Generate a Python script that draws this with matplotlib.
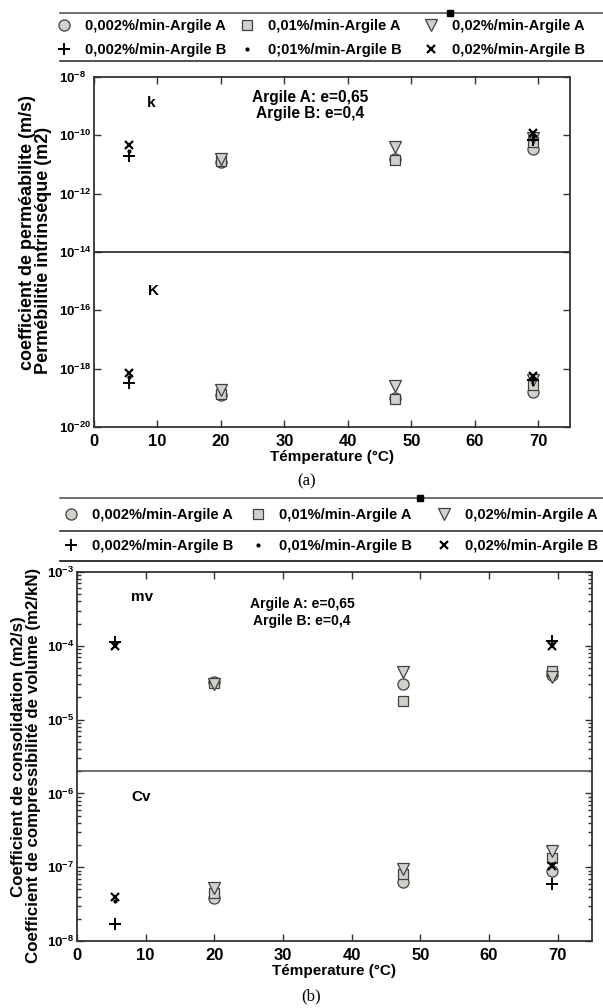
import matplotlib
matplotlib.use("Agg")
import matplotlib.pyplot as plt
from matplotlib.lines import Line2D
from matplotlib.ticker import LogLocator, FixedLocator, FuncFormatter, NullFormatter
import numpy as np

plt.rcParams['font.family'] = ['Liberation Sans', 'DejaVu Sans']
plt.rcParams['font.weight'] = 'bold'
plt.rcParams['mathtext.fontset'] = 'custom'
plt.rcParams['mathtext.rm'] = 'Liberation Sans:bold'
plt.rcParams['mathtext.bf'] = 'Liberation Sans:bold'
TICKSIZE = 9.5

# ---------------- data ----------------
temp_A = [20, 47.5, 69.2]
temp_B = [5.5, 69.2]

# (a) hydraulic conductivity k (m/s)
k_A_002 = [1.2e-11, 1.5e-11, 3.5e-11]
k_A_01 = [1.3e-11, 1.4e-11, 6.0e-11]
k_A_02 = [1.5e-11, 4.0e-11, 8.0e-11]
k_B_002 = [2.0e-11, 7.0e-11]
k_B_01 = [3.0e-11, 9.0e-11]
k_B_02 = [4.5e-11, 1.2e-10]

# (a) intrinsic permeability K (m2)
K_A_002 = [1.3e-19, 1.0e-19, 1.6e-19]
K_A_01 = [1.4e-19, 9.0e-20, 2.8e-19]
K_A_02 = [1.8e-19, 2.6e-19, 4.0e-19]
K_B_002 = [3.3e-19, 4.0e-19]
K_B_01 = [5.0e-19, 4.5e-19]
K_B_02 = [7.0e-19, 5.5e-19]

# (b) mv (m2/kN)
mv_A_002 = [3.2e-5, 3.0e-5, 4.0e-5]
mv_A_01 = [3.1e-5, 1.8e-5, 4.5e-5]
mv_A_02 = [3.0e-5, 4.4e-5, 3.8e-5]
mv_B_002 = [1.12e-4, 1.15e-4]
mv_B_01 = [1.05e-4, 1.05e-4]
mv_B_02 = [1.0e-4, 1.0e-4]

# (b) Cv (m2/s)
cv_A_002 = [3.8e-8, 6.3e-8, 9.0e-8]
cv_A_01 = [4.5e-8, 8.0e-8, 1.35e-7]
cv_A_02 = [5.3e-8, 9.5e-8, 1.65e-7]
cv_B_002 = [1.7e-8, 6.0e-8]
cv_B_01 = [3.5e-8, 1.1e-7]
cv_B_02 = [3.9e-8, 1.05e-7]

labels_a = ['0,002%/min-Argile A', '0,01%/min-Argile A', '0,02%/min-Argile A',
            '0,002%/min-Argile B', '0;01%/min-Argile B', '0,02%/min-Argile B']
labels_b = ['0,002%/min-Argile A', '0,01%/min-Argile A', '0,02%/min-Argile A',
            '0,002%/min-Argile B', '0,01%/min-Argile B', '0,02%/min-Argile B']

# ---------------- styles ----------------
GREY = '#d3d0cb'
EDGE = '#404040'
sty = [
    dict(marker='o', ms=8, mfc=GREY, mec=EDGE, mew=0.9, ls='none'),
    dict(marker='s', ms=7.5, mfc=GREY, mec=EDGE, mew=0.9, ls='none'),
    dict(marker='v', ms=9, mfc=GREY, mec=EDGE, mew=0.9, ls='none'),
    dict(marker='+', ms=9, mec='black', mew=1.4, ls='none'),
    dict(marker='.', ms=4, mfc='black', mec='black', ls='none'),
    dict(marker='x', ms=6, mec='black', mew=1.6, ls='none'),
]

W, H = 603, 1008
fig = plt.figure(figsize=(W / 100, H / 100), dpi=100)


def fx(px):
    return px / W


def fy(py):
    return 1 - py / H


def frac_box(l, r, t, b):
    return [l / W, 1 - b / H, (r - l) / W, (b - t) / H]


def pow_fmt(v, pos):
    e = int(round(np.log10(v)))
    return r'$\mathbf{10^{%d}}$' % e


def plot_series(ax, groups, labels):
    handles = []
    for i, (xs, ys) in enumerate(groups):
        h, = ax.plot(xs, ys, label=labels[i], zorder=3 + (1 if i >= 3 else 0), **sty[i])
        handles.append(h)
    return handles


def style_axes(ax, ypad_px):
    for s in ax.spines.values():
        s.set_color('#333333')
        s.set_linewidth(1.3)
    ax.set_xlim(0, 75)
    ax.set_xticks([0, 10, 20, 30, 40, 50, 60, 70])
    ax.tick_params(axis='both', which='both', direction='in', top=True, right=True,
                   labelsize=12, width=1.0, color='#333333')
    ax.tick_params(axis='both', which='major', length=5)
    ax.tick_params(axis='both', which='minor', length=3)
    ax.tick_params(axis='x', pad=5)
    ax.yaxis.set_major_formatter(FuncFormatter(pow_fmt))
    ax.tick_params(axis='y', labelsize=TICKSIZE, pad=ypad_px * 0.72)
    for lab in ax.get_yticklabels():
        lab.set_horizontalalignment('left')
    ax.set_xlabel('Témperature (°C)', fontsize=11, fontweight='bold', labelpad=1)


# ---------------- panel (a) ----------------
axa = fig.add_axes(frac_box(94, 570, 77, 427))
axa.set_yscale('log')
axa.set_ylim(1e-20, 1e-8)
ha = plot_series(axa, [(temp_A, k_A_002), (temp_A, k_A_01), (temp_A, k_A_02),
                       (temp_B, k_B_002), (temp_B, k_B_01), (temp_B, k_B_02)], labels_a)
plot_series(axa, [(temp_A, K_A_002), (temp_A, K_A_01), (temp_A, K_A_02),
                  (temp_B, K_B_002), (temp_B, K_B_01), (temp_B, K_B_02)], labels_a)
axa.yaxis.set_major_locator(FixedLocator([1e-20, 1e-18, 1e-16, 1e-14, 1e-12, 1e-10, 1e-8]))
axa.yaxis.set_minor_locator(FixedLocator([]))
style_axes(axa, 35)
axa.axhline(1e-14, color='#222222', lw=1.2)
fig.text(fx(28), fy(232), 'coefficient de perméabilite (m/s)', rotation=90,
         fontsize=13, fontweight='bold', ha='center', va='center')
fig.text(fx(44), fy(250), 'Permébilitie intrinséque (m2)', rotation=90,
         fontsize=13, fontweight='bold', ha='center', va='center')
axa.text(9.0, 1.3e-9, 'k', fontsize=11, fontweight='bold', ha='center', va='center')
axa.text(9.3, 4.7e-16, 'K', fontsize=11, fontweight='bold', ha='center', va='center')
axa.text(34.0, 1.05e-9, 'Argile A: e=0,65\nArgile B: e=0,4', fontsize=11.2,
         fontweight='bold', ha='center', va='center', linespacing=1.15)
fig.text(fx(307), fy(481), '(a)', fontsize=12, family='Liberation Serif',
         fontweight='normal', ha='center', va='center')

# ---------------- panel (b) ----------------
axb = fig.add_axes(frac_box(77, 592, 572, 941))
axb.set_yscale('log')
axb.set_ylim(1e-8, 1e-3)
hb = plot_series(axb, [(temp_A, mv_A_002), (temp_A, mv_A_01), (temp_A, mv_A_02),
                       (temp_B, mv_B_002), (temp_B, mv_B_01), (temp_B, mv_B_02)], labels_b)
plot_series(axb, [(temp_A, cv_A_002), (temp_A, cv_A_01), (temp_A, cv_A_02),
                  (temp_B, cv_B_002), (temp_B, cv_B_01), (temp_B, cv_B_02)], labels_b)
axb.yaxis.set_major_locator(FixedLocator([1e-8, 1e-7, 1e-6, 1e-5, 1e-4, 1e-3]))
axb.yaxis.set_minor_locator(LogLocator(base=10, subs=np.arange(2, 10), numticks=20))
axb.yaxis.set_minor_formatter(NullFormatter())
style_axes(axb, 30)
axb.axhline(2e-6, color='#555555', lw=1.2)
fig.text(fx(19), fy(757), 'Coefficient de consolidation (m2/s)', rotation=90,
         fontsize=12.2, fontweight='bold', ha='center', va='center')
fig.text(fx(34), fy(765), 'Coefficient de compressibilité de volume (m2/kN)', rotation=90,
         fontsize=12.2, fontweight='bold', ha='center', va='center')
axb.text(9.5, 4.6e-4, 'mv', fontsize=11, fontweight='bold', ha='center', va='center')
axb.text(9.3, 8.9e-7, 'Cv', fontsize=11, fontweight='bold', ha='center', va='center')
axb.text(32.8, 2.8e-4, 'Argile A: e=0,65\nArgile B: e=0,4', fontsize=10,
         fontweight='bold', ha='center', va='center', linespacing=1.25)
fig.text(fx(311), fy(996), '(b)', fontsize=12, family='Liberation Serif',
         fontweight='normal', ha='center', va='center')


# ---------------- legends (one entry each, placed like the original) ----------------
def legend_entry(handle, label, x_px, y_px):
    leg = fig.legend([handle], [label], loc='center left',
                     bbox_to_anchor=(fx(x_px), fy(y_px)),
                     frameon=False, fontsize=10.5, handlelength=1.0,
                     handletextpad=0.9, borderaxespad=0, borderpad=0)
    for t in leg.get_texts():
        t.set_fontweight('bold')
    return leg


cols_a = [57, 240, 424]
rows_a = [26, 50]
cols_b = [64, 251, 437]
rows_b = [515, 546]
for i in range(6):
    c, r = i % 3, i // 3
    legend_entry(ha[i], labels_a[i], cols_a[c], rows_a[r])
    legend_entry(hb[i], labels_b[i], cols_b[c], rows_b[r])

# decorative rules around legends
for yy, c in [(13, '#555555'), (61, '#333333')]:
    fig.add_artist(Line2D([fx(60), 1], [fy(yy), fy(yy)], color=c, lw=1.2))
fig.add_artist(Line2D([fx(450)], [fy(13)], marker='s', ms=4, color='black'))
for yy, c in [(498, '#555555'), (531, '#333333'), (561, '#111111')]:
    fig.add_artist(Line2D([fx(60), 1], [fy(yy), fy(yy)], color=c, lw=1.2))
fig.add_artist(Line2D([fx(420)], [fy(498)], marker='s', ms=4, color='black'))

fig.savefig('out.png', dpi=100)
